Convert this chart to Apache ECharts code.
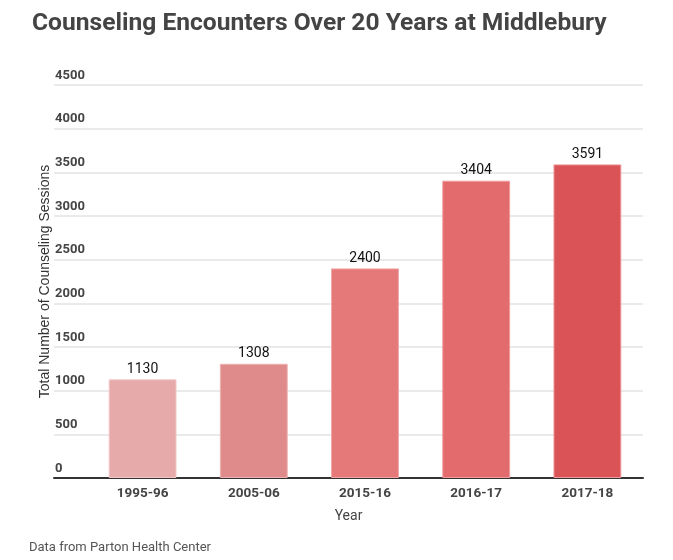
<!DOCTYPE html>
<html>
<head>
<meta charset="utf-8">
<script src="https://cdn.jsdelivr.net/npm/echarts@6/dist/echarts.min.js"></script>
<style>
    html, body { margin: 0; padding: 0; background: #fff; }
    #chart { width: 673px; height: 560px; }
</style>
</head>
<body>
<div id="chart"></div>
<script>
// data
var years = ["1995-96", "2005-06", "2015-16", "2016-17", "2017-18"];
var sessions = [1130, 1308, 2400, 3404, 3591];
var yMin = 0, yMax = 4500, yStep = 500;

var barColors = ["#e6aaaa", "#df8a8b", "#e57879", "#e36b6d", "#da5356"];
var barBorders = ["#f2c9c9", "#eeb0b0", "#f2a5a5", "#f09c9d", "#ee9a9c"];
var textColor = "#444";

var myChart = echarts.init(document.getElementById("chart"));

function getBarData(){
    var data = [];
    for (var i = 0; i < sessions.length; i++) {
        data.push({
            value: sessions[i],
            itemStyle: { color: barColors[i], borderColor: barBorders[i], borderWidth: 1 }
        });
    }
    return data;
}

var option = {
    backgroundColor: "#fff",
    animation: false,
    title: {
        text: "Counseling Encounters Over 20 Years at Middlebury",
        left: 27,
        top: 6,
        textStyle: { fontFamily: "Roboto", fontSize: 24.6, fontWeight: "bold", color: textColor }
    },
    grid: [
        { left: 54, right: 30, top: 85, bottom: 82 },   // gridlines + y labels
        { left: 87, right: 30, top: 85, bottom: 82 }    // bars
    ],
    xAxis: [{
        gridIndex: 0,
        type: "value",
        min: 0, max: 1,
        name: "Year",
        nameLocation: "middle",
        nameGap: 31,
        nameTextStyle: { fontFamily: "Roboto", fontSize: 14, color: textColor },
        axisLine: { show: true, onZero: false, lineStyle: { color: "#333", width: 2 } },
        axisTick: { show: false },
        axisLabel: { show: false },
        splitLine: { show: false }
    }, {
        gridIndex: 1,
        type: "category",
        data: years,
        axisLine: { show: false },
        axisTick: { show: false },
        axisLabel: {
            margin: 9,
            fontFamily: "Roboto", fontSize: 13.5, fontWeight: "bold", color: textColor
        }
    }],
    yAxis: [{
        gridIndex: 0,
        type: "value",
        min: yMin, max: yMax, interval: yStep,
        name: "Total Number of Counseling Sessions",
        nameLocation: "middle",
        nameGap: 2,
        nameMoveOverlap: false,
        nameTextStyle: { fontFamily: "Liberation Sans", fontSize: 14, color: "#333" },
        axisLine: { show: false },
        axisTick: { show: false },
        axisLabel: {
            inside: true,
            margin: 1,
            verticalAlign: "bottom",
            padding: [0, 0, 3, 0],
            formatter: function (v) { return String(v); },
            fontFamily: "Roboto", fontSize: 13, fontWeight: "bold", color: textColor
        },
        splitLine: { lineStyle: { color: "#e3e3e3", width: 1.5 } }
    }, {
        gridIndex: 1,
        type: "value",
        min: yMin, max: yMax, interval: yStep,
        show: false,
        splitLine: { show: false }
    }],
    series: [{
        type: "bar",
        xAxisIndex: 1,
        yAxisIndex: 1,
        barWidth: "61%",
        data: getBarData(),
        label: {
            show: true,
            position: "top",
            distance: 3,
            fontFamily: "Roboto", fontSize: 14, color: "#111"
        }
    }],
    graphic: [{
        type: "text",
        left: 29,
        top: 541,
        style: { text: "Data from Parton Health Center", fontFamily: "Roboto", fontSize: 13, fill: "#555" }
    }]
};

myChart.setOption(option);
window.onresize = myChart.resize;
</script>
</body>
</html>
